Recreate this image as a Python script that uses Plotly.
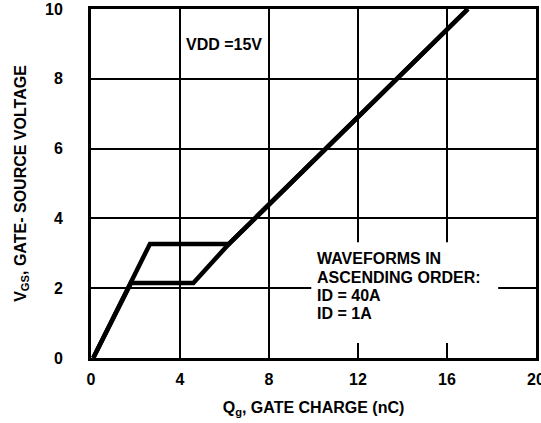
import plotly.graph_objects as go

# Gate charge curves (Qg in nC, VGS in V)
qg_40a = [0.1, 2.65, 6.2, 16.94]
vgs_40a = [0.0, 3.27, 3.27, 10.0]

qg_1a = [0.1, 1.8, 4.6, 6.2, 16.94]
vgs_1a = [0.0, 2.15, 2.15, 3.27, 10.0]

x_ticks = [0, 4, 8, 12, 16, 20]
y_ticks = [0, 2, 4, 6, 8, 10]

FONT = "Liberation Sans, Arial, sans-serif"

fig = go.Figure()
fig.add_trace(go.Scatter(x=qg_40a, y=vgs_40a, mode="lines", name="ID = 40A",
                         line=dict(color="black", width=4.5)))
fig.add_trace(go.Scatter(x=qg_1a, y=vgs_1a, mode="lines", name="ID = 1A",
                         line=dict(color="black", width=4.5)))

# white box behind the legend text (masks grid lines)
fig.add_shape(type="rect", xref="x", yref="y",
              x0=9.9, x1=18.3, y0=0.43, y1=3.32,
              fillcolor="white", line=dict(width=0), layer="above")

ann_lines = ["WAVEFORMS IN", "ASCENDING ORDER:", "ID = 40A", "ID = 1A"]
ann_y = [2.86, 2.32, 1.8, 1.28]
for txt, yy in zip(ann_lines, ann_y):
    fig.add_annotation(x=10.05, y=yy, xref="x", yref="y", text="<b>%s</b>" % txt,
                       showarrow=False, xanchor="left", yanchor="middle",
                       font=dict(family=FONT, size=16, color="black"))

fig.add_annotation(x=4.2, y=8.97, xref="x", yref="y", text="<b>VDD =15V</b>",
                   showarrow=False, xanchor="left", yanchor="middle",
                   font=dict(family=FONT, size=16, color="black"))

axis_common = dict(
    showgrid=True, gridcolor="black", gridwidth=2,
    showline=True, linecolor="black", linewidth=3, mirror=True,
    zeroline=False, ticks="", automargin=False, ticklabeloverflow="allow",
    tickfont=dict(family=FONT, size=16, color="black", weight="bold"),
)

fig.update_xaxes(range=[0, 20], tickvals=x_ticks, ticktext=[str(v) for v in x_ticks],
                 title=dict(text="<b>Q<sub>g</sub>, GATE CHARGE (nC)</b>",
                            font=dict(family=FONT, size=16, color="black")),
                 ticklabelstandoff=5, **axis_common)
fig.update_yaxes(range=[0, 10], tickvals=y_ticks, ticktext=[str(v) for v in y_ticks],
                 title=dict(text="<b>V<sub>GS</sub>, GATE- SOURCE VOLTAGE</b>",
                            font=dict(family=FONT, size=16, color="black")),
                 ticklabelstandoff=22, **axis_common)

fig.update_layout(
    width=541, height=423,
    margin=dict(l=91, r=5, t=9, b=65, autoexpand=False),
    plot_bgcolor="white", paper_bgcolor="white",
    showlegend=False,
)

fig.write_html("out.html", config={"displayModeBar": False},
               post_script="document.body.style.margin='0';document.body.style.overflow='hidden';")
